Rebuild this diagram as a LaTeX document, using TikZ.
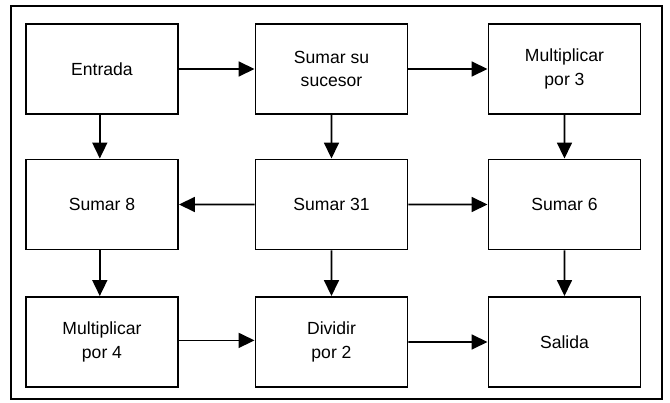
\documentclass[tikz,border=0pt]{standalone}
\usepackage{fontspec}
\setmainfont{Liberation Sans}
\usetikzlibrary{arrows.meta}

\begin{document}
\begin{tikzpicture}[scale=0.2]
\tikzstyle{every node}+=[inner sep=0pt]
\tikzstyle{paso}=[draw=black, line width=1.1pt, minimum width=3.04cm, minimum height=1.8cm, align=center, font=\fontsize{10}{13.5}\selectfont]
\tikzstyle{flecha}=[black, line width=1pt, -{Triangle[length=0.32cm,width=0.3cm]}]
\useasboundingbox (0,0) rectangle (67,-40.3);
\draw [black, line width=1pt] (1.1,-0.6) rectangle (66.2,-39.9);
\node [paso] (entrada) at (10.2,-6.9) {Entrada};
\node [paso] (sucesor) at (33.15,-6.9) {Sumar su\\sucesor};
\node [paso] (mult3) at (56.45,-6.9) {Multiplicar\\por 3};
\node [paso] (sumar8) at (10.2,-20.45) {Sumar 8};
\node [paso] (sumar31) at (33.15,-20.45) {Sumar 31};
\node [paso] (sumar6) at (56.45,-20.45) {Sumar 6};
\node [paso] (mult4) at (10.2,-34.2) {Multiplicar\\por 4};
\node [paso] (dividir) at (33.15,-34.2) {Dividir\\por 2};
\node [paso] (salida) at (56.45,-34.2) {Salida};
\draw [flecha] (entrada) -- (sucesor);
\draw [flecha] (sucesor) -- (mult3);
\draw [flecha] ([xshift=-0.22cm]entrada.south) -- ([xshift=-0.22cm]sumar8.north);
\draw [flecha] (sucesor) -- (sumar31);
\draw [flecha] (mult3) -- (sumar6);
\draw [flecha] (sumar31) -- (sumar8);
\draw [flecha] (sumar31) -- (sumar6);
\draw [flecha] ([xshift=-0.22cm]sumar8.south) -- ([xshift=-0.22cm]mult4.north);
\draw [flecha] (sumar31) -- (dividir);
\draw [flecha] (sumar6) -- (salida);
\draw [flecha] ([yshift=0.16cm]mult4.east) -- ([yshift=0.16cm]dividir.west);
\draw [flecha] (dividir) -- (salida);
\end{tikzpicture}
\end{document}
